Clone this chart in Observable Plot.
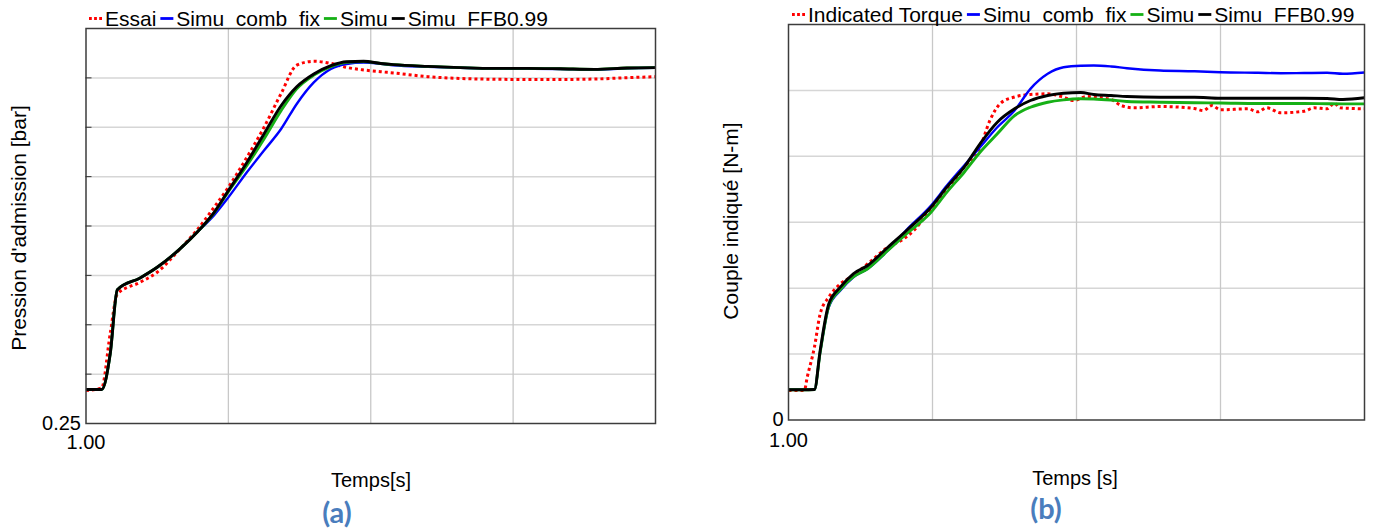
<!DOCTYPE html>
<html><head><meta charset="utf-8">
<script src="https://cdn.jsdelivr.net/npm/d3@7"></script>
<script src="https://cdn.jsdelivr.net/npm/@observablehq/plot@0.6"></script>
<style>
html,body{margin:0;padding:0;background:#fff;}
#root{position:relative;width:1373px;height:528px;overflow:hidden;font-family:"Liberation Sans",Arial,sans-serif;color:#000;}
.holder{position:absolute;top:0;}
.ytitle{position:absolute;font-size:21px;line-height:21px;white-space:nowrap;transform:translate(-50%,-50%) rotate(-90deg);}
.xtitle{position:absolute;font-size:20px;line-height:20px;white-space:pre;transform:translate(-50%,0);}
.tag{position:absolute;font-family:Lato,"Open Sans",sans-serif;font-weight:bold;color:#4a7dbd;font-size:29px;line-height:29px;transform:translate(-50%,0);}
</style></head>
<body><div id="root"></div>
<script>
// ---------- data ----------
const seriesNames = ["Essai", "Simu_comb_fix", "Simu", "Simu_FFB0.99"];
const legendLeft = ["Essai", "Simu  comb  fix", "Simu", "Simu  FFB0.99"];
const legendRight = ["Indicated Torque", "Simu  comb  fix", "Simu", "Simu  FFB0.99"];
const seriesColors = ["#ff0000", "#0000ff", "#16b016", "#000000"];

// (a) intake pressure
const leftTime  = [1.00, 1.11, 1.17, 1.22, 1.38, 1.50, 1.66, 1.78, 1.90, 2.00, 2.13, 2.25, 2.37, 2.48, 2.60, 2.72, 2.83, 2.95, 3.07, 3.16, 3.40, 3.63, 3.86, 4.10, 4.33, 4.57, 4.80, 5.00];
const leftEssai = [0.417, 0.430, 0.705, 0.906, 0.965, 1.016, 1.134, 1.230, 1.345, 1.446, 1.598, 1.749, 1.920, 2.064, 2.084, 2.073, 2.053, 2.040, 2.031, 2.025, 2.006, 1.997, 1.993, 1.992, 1.992, 1.994, 2.001, 2.006];
const leftComb  = [0.422, 0.422, 0.603, 0.927, 0.987, 1.041, 1.134, 1.218, 1.305, 1.395, 1.522, 1.632, 1.741, 1.868, 1.977, 2.045, 2.070, 2.077, 2.071, 2.064, 2.056, 2.051, 2.047, 2.046, 2.045, 2.041, 2.049, 2.051];
const leftSimu  = [0.422, 0.422, 0.603, 0.927, 0.987, 1.041, 1.134, 1.218, 1.317, 1.424, 1.556, 1.691, 1.834, 1.945, 2.014, 2.057, 2.079, 2.083, 2.073, 2.067, 2.058, 2.052, 2.048, 2.048, 2.046, 2.043, 2.050, 2.052];
const leftFFB   = [0.422, 0.422, 0.603, 0.927, 0.987, 1.041, 1.134, 1.218, 1.319, 1.429, 1.572, 1.716, 1.859, 1.955, 2.020, 2.062, 2.082, 2.084, 2.073, 2.067, 2.058, 2.052, 2.048, 2.048, 2.046, 2.043, 2.050, 2.052];
const leftYDomain = [0.25, 2.25];
const leftYGrid = [0.5, 0.75, 1.0, 1.25, 1.5, 1.75, 2.0];
const leftYLabels = [0.25];

// (b) indicated torque
const rightTime = [1.00, 1.10, 1.18, 1.22, 1.28, 1.36, 1.45, 1.55, 1.69, 1.82, 1.99, 2.10, 2.22, 2.33, 2.45, 2.57, 2.68, 2.80, 2.91, 3.03, 3.12, 3.24, 3.35, 3.58, 3.82, 4.00, 4.26, 4.42, 4.58, 4.74, 4.85, 5.00];
const rightComb = [4.58, 4.58, 4.63, 10.3, 17.11, 19.65, 21.66, 22.94, 25.71, 28.85, 32.54, 35.57, 38.61, 41.38, 44.42, 46.95, 50.24, 52.52, 53.52, 53.75, 53.78, 53.63, 53.37, 53.02, 52.91, 52.76, 52.67, 52.61, 52.64, 52.67, 52.52, 52.71];
const rightSimu = [4.58, 4.58, 4.63, 10.3, 17.3, 19.8, 21.7, 22.94, 25.71, 28.25, 31.52, 34.56, 37.59, 40.62, 43.42, 46.19, 47.45, 48.21, 48.57, 48.73, 48.70, 48.54, 48.32, 48.21, 48.12, 48.09, 48.01, 48.01, 48.01, 47.98, 47.96, 47.96];
const rightFFB  = [4.58, 4.58, 4.63, 10.54, 17.63, 20.15, 22.18, 23.44, 26.21, 28.75, 32.28, 35.32, 38.35, 41.90, 45.18, 47.21, 48.47, 49.23, 49.58, 49.68, 49.38, 49.23, 49.07, 48.97, 48.97, 48.82, 48.82, 48.82, 48.82, 48.77, 48.62, 48.88];
const rightEssaiTime = [1.00, 1.11, 1.13, 1.18, 1.22, 1.28, 1.36, 1.45, 1.55, 1.69, 1.80, 1.87, 1.99, 2.10, 2.22, 2.33, 2.40, 2.47, 2.57, 2.68, 2.80, 2.91, 2.98, 3.07, 3.24, 3.31, 3.40, 3.58, 3.82, 3.88, 3.94, 4.00, 4.19, 4.26, 4.32, 4.42, 4.58, 4.65, 4.74, 4.79, 4.83, 5.00];
const rightEssai = [4.48, 4.48, 6.49, 11.04, 16.11, 18.63, 20.66, 21.92, 23.70, 26.21, 27.49, 28.75, 32.04, 34.81, 38.35, 41.38, 45.5, 48.0, 49.0, 49.38, 49.48, 48.97, 48.47, 49.07, 48.62, 47.71, 47.36, 47.56, 47.25, 46.95, 47.71, 47.06, 47.21, 46.75, 47.36, 46.60, 46.84, 47.36, 47.21, 48.06, 47.36, 47.21];
const rightYDomain = [0, 60];
const rightYGrid = [10, 20, 30, 40, 50];
const rightYLabels = [0];

const xDomain = [1, 5];
const xGrid = [2, 3, 4];
const xLabels = [1];

// ---------- drawing ----------
const root = document.getElementById("root");
const pts = (t, v) => t.map((d, i) => ({t: d, v: v[i]}));
const widths = [3, 2.4, 2.9, 2.9];

function panel(o) {
  const lines = o.series.map((s, i) => Plot.line(pts(s.t, s.v), {
    x: "t", y: "v", stroke: seriesColors[i],
    strokeWidth: widths[i],
    strokeDasharray: i === 0 ? "3,3" : null,
    strokeLinecap: "butt",
    curve: "monotone-x"
  }));
  const marks = [
    Plot.ruleY(o.yGrid, {stroke: "#d6d6d6", strokeWidth: 1.5}),
    Plot.ruleX(xGrid, {stroke: "#c8c8c8", strokeWidth: 1.3}),
    ...lines,
    Plot.frame({stroke: "#3c3c3c", strokeWidth: 1.5}),
    Plot.axisY(o.yLabels, {anchor: "left", tickSize: 0, tickPadding: 5, fontSize: 20, tickFormat: o.yFormat, label: null}),
    Plot.axisX(xLabels, {anchor: "bottom", tickSize: 0, tickPadding: o.xPad, fontSize: 20, tickFormat: d3.format(".2f"), label: null})
  ];
  if (o.inTicks) marks.push(Plot.axisY(o.yGrid, {anchor: "left", tickSize: 6, dx: 6, stroke: o.inTicks, tickFormat: () => "", label: null}));
  return Plot.plot({
    width: o.width, height: 528,
    marginLeft: o.mL, marginRight: o.mR, marginTop: o.mT, marginBottom: o.mB,
    x: {domain: xDomain, label: null, axis: null},
    y: {domain: o.yDomain, label: null, axis: null},
    style: {fontFamily: "'Liberation Sans', Arial, sans-serif", color: "#000", background: "white"},
    marks
  });
}

const left = panel({
  width: 680, mL: 85.5, mR: 25, mT: 28, mB: 105, xPad: 11,
  yDomain: leftYDomain, yGrid: leftYGrid, yLabels: leftYLabels, yFormat: d3.format(".2f"), inTicks: "#333",
  series: [
    {t: leftTime, v: leftEssai}, {t: leftTime, v: leftComb}, {t: leftTime, v: leftSimu}, {t: leftTime, v: leftFFB}
  ]
});
const right = panel({
  width: 683, mL: 98, mR: 9, mT: 24, mB: 108.5, xPad: 13,
  yDomain: rightYDomain, yGrid: rightYGrid, yLabels: rightYLabels, yFormat: d => String(d), inTicks: null,
  series: [
    {t: rightEssaiTime, v: rightEssai}, {t: rightTime, v: rightComb}, {t: rightTime, v: rightSimu}, {t: rightTime, v: rightFFB}
  ]
});

function place(node, x, w) {
  const h = document.createElement("div");
  h.className = "holder"; h.style.left = x + "px"; h.style.width = w + "px";
  h.appendChild(node); root.appendChild(h);
}
place(left, 0, 680);
place(right, 690, 683);

function addText(cls, txt, x, y) {
  const d = document.createElement("div");
  d.className = cls; d.textContent = txt;
  d.style.left = x + "px"; d.style.top = y + "px";
  root.appendChild(d);
}
addText("ytitle", "Pression d'admission [bar]", 18, 228);
addText("ytitle", "Couple indiqué [N-m]", 730, 221);
addText("xtitle", "Temps[s]", 371, 470);
addText("xtitle", "Temps [s]", 1075, 468);
addText("tag", "(a)", 337, 497);
addText("tag", "(b)", 1046, 493);

// legends
const lsvg = d3.select(root).append("svg")
  .attr("width", 1373).attr("height", 40)
  .style("position", "absolute").style("left", "0px").style("top", "0px");
function legend(x0, baseline, labels) {
  const g = lsvg.append("g").attr("transform", `translate(${x0},${baseline})`);
  let x = 0;
  labels.forEach((lab, i) => {
    g.append("line").attr("x1", x).attr("x2", x + 13).attr("y1", -7.5).attr("y2", -7.5)
      .attr("stroke", seriesColors[i]).attr("stroke-width", i === 0 ? 3 : 2.8)
      .attr("stroke-dasharray", i === 0 ? "2.8,2.3" : null);
    x += 16;
    const t = g.append("text").attr("x", x).attr("y", 0)
      .style("font-family", "'Liberation Sans', Arial, sans-serif").style("font-size", "21px")
      .style("white-space", "pre").attr("fill", "#000").text(lab);
    x += t.node().getComputedTextLength() + 4;
  });
}
legend(89, 26, legendLeft);
legend(792, 22, legendRight);
</script></body></html>
